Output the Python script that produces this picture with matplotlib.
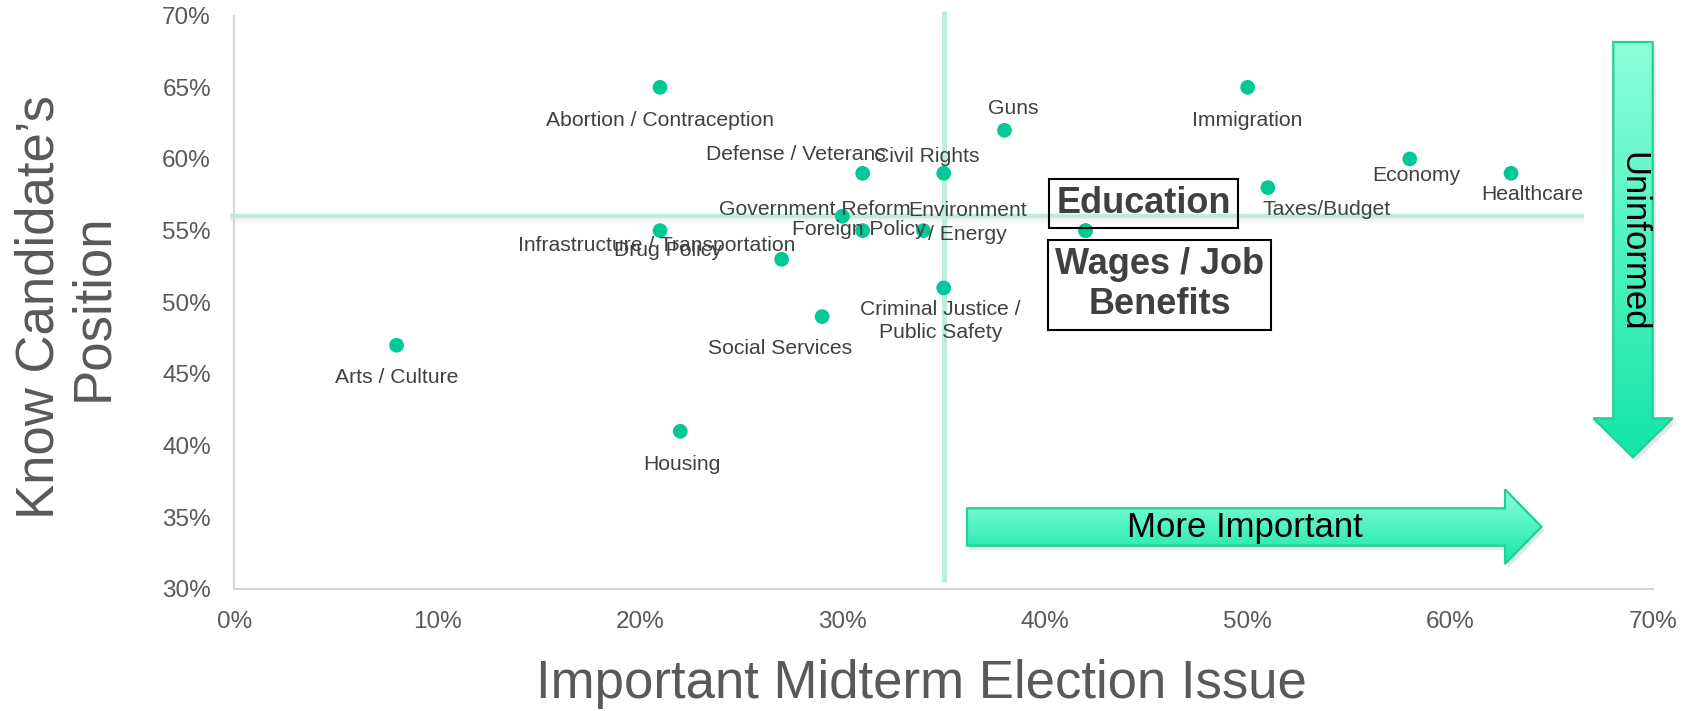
import numpy as np
import matplotlib
matplotlib.use("Agg")
import matplotlib.pyplot as plt
from matplotlib.patches import Polygon
from matplotlib.colors import LinearSegmentedColormap
from matplotlib.ticker import FuncFormatter

plt.rcParams['font.family'] = ['Liberation Sans', 'DejaVu Sans']

# Survey results: share naming each issue as important vs. share knowing the candidate's position
issues = ["Abortion / Contraception", "Guns", "Immigration", "Economy", "Healthcare",
          "Taxes/Budget", "Defense / Veterans", "Civil Rights", "Government Reform",
          "Foreign Policy", "Environment\n/ Energy", "Education", "Wages / Job\nBenefits",
          "Infrastructure / Transportation", "Drug Policy", "Criminal Justice /\nPublic Safety",
          "Social Services", "Arts / Culture", "Housing"]
importance = [21, 38, 50, 58, 63, 51, 31, 35, 30, 31, 34, 42, 42, 21, 27, 35, 29, 8, 22]
knowledge = [65, 62, 65, 60, 59, 58, 59, 59, 56, 55, 55, 55, 55, 55, 53, 51, 49, 47, 41]

# label placement relative to each point (pixels: right, up)
label_offsets = [(0, -33), (9, 22), (0, -33), (7, -17), (21, -21),
                 (59, -22), (-67, 19), (-17, 17), (-28, 7),
                 (-4, 1), (44, 8), (58, 27), (74, -54),
                 (-3, -15), (-114, 9), (-3, -33),
                 (-42, -32), (0, -32), (2, -33)]
highlighted = {"Education", "Wages / Job\nBenefits"}

avg_importance = 35
avg_knowledge = 56

x_ticks = [0, 10, 20, 30, 40, 50, 60, 70]
y_ticks = [30, 35, 40, 45, 50, 55, 60, 65, 70]

W, H = 1690, 711
fig = plt.figure(figsize=(W / 100, H / 100), dpi=100)
ax = fig.add_axes([234.5 / W, 1 - 588.9 / H, (1652.9 - 234.5) / W, (588.9 - 15.65) / H])

ax.set_xlim(0, 70)
ax.set_ylim(30, 70)
ax.set_xticks(x_ticks)
ax.set_yticks(y_ticks)
pct = FuncFormatter(lambda v, _: f"{v:.0f}%")
ax.xaxis.set_major_formatter(pct)
ax.yaxis.set_major_formatter(pct)
ax.tick_params(length=0, labelsize=17.5, colors='#595959')
ax.tick_params(axis='y', pad=17)
ax.tick_params(axis='x', pad=16)
for s in ('top', 'right'):
    ax.spines[s].set_visible(False)
for s in ('left', 'bottom'):
    ax.spines[s].set_color('#d6d6d6')
    ax.spines[s].set_linewidth(1.5)

# quadrant guide lines with a soft shadow under the horizontal one
for k, a in [(2, 0.06), (4, 0.04), (6, 0.025)]:
    ax.plot([-0.2, 66.6], [avg_knowledge - k / 14.33, avg_knowledge - k / 14.33],
            color='#808080', lw=3, alpha=a, solid_capstyle='butt', clip_on=False, zorder=1)
ax.plot([-0.2, 66.6], [avg_knowledge, avg_knowledge], color='#bdeedd', lw=3.2,
        solid_capstyle='butt', clip_on=False, zorder=2)
ax.plot([avg_importance, avg_importance], [30.45, 70.35], color='#bdeedd', lw=3.6,
        solid_capstyle='butt', clip_on=False, zorder=2)

ax.scatter(importance, knowledge, s=112, color='#00c996', edgecolors='none', zorder=4)

for name, xv, yv, (dx, dy) in zip(issues, importance, knowledge, label_offsets):
    if name in highlighted:
        ax.annotate(name, (xv, yv), xytext=(dx, dy), textcoords='offset pixels',
                    ha='center', va='center', fontsize=26, fontweight='bold',
                    color='#404040', linespacing=1.2, zorder=5,
                    bbox=dict(boxstyle='square,pad=0.2', fc='none', ec='black', lw=1.5))
    else:
        ax.annotate(name, (xv, yv), xytext=(dx, dy), textcoords='offset pixels',
                    ha='center', va='center', fontsize=15.2, color='#404040',
                    linespacing=1.32, zorder=5)

fig.text(66 / W, 1 - 307 / H, "Know Candidate\u2019s\nPosition", rotation=90,
         ha='center', va='center', fontsize=38, color='#595959', linespacing=1.1)
fig.text(921.5 / W, 1 - 684 / H, "Important Midterm Election Issue",
         ha='center', va='center', fontsize=38, color='#595959')

# direction arrows drawn in pixel space over the chart
ov = fig.add_axes([0, 0, 1, 1])
ov.set_zorder(6)
ov.patch.set_alpha(0)
ov.axis('off')
cmap = LinearSegmentedColormap.from_list('mint', ['#8effdb', '#12e6a6'])
grad = np.linspace(0, 1, 256).reshape(-1, 1)


def gradient_arrow(verts):
    xs = [v[0] for v in verts]
    ys = [v[1] for v in verts]
    shadow = Polygon([(x + 3, y + 4) for x, y in verts], closed=True, fc='#000000',
                     ec='none', alpha=0.10)
    ov.add_patch(shadow)
    poly = Polygon(verts, closed=True, fc='none', ec='#1fd09c', lw=1.6, zorder=3)
    ov.add_patch(poly)
    im = ov.imshow(grad, cmap=cmap, aspect='auto', origin='upper',
                   extent=[min(xs), max(xs), max(ys), min(ys)], zorder=2)
    im.set_clip_path(poly)


gradient_arrow([(967, 508.3), (1505, 508.3), (1505, 489.3), (1541.5, 526.8),
                (1505, 564), (1505, 545.7), (967, 545.7)])
gradient_arrow([(1613.3, 42), (1652.7, 42), (1652.7, 418.3), (1672.7, 418.3),
                (1633, 457.3), (1593.3, 418.3), (1613.3, 418.3)])
ov.text(1244.6, 527, "More Important", ha='center', va='center', fontsize=25,
        color='black', zorder=4)
ov.text(1633, 241.7, "Uninformed", ha='center', va='center', rotation=-90,
        fontsize=25, color='black', zorder=4)
ov.set_xlim(0, W)
ov.set_ylim(H, 0)

fig.savefig("out.png", dpi=100)
